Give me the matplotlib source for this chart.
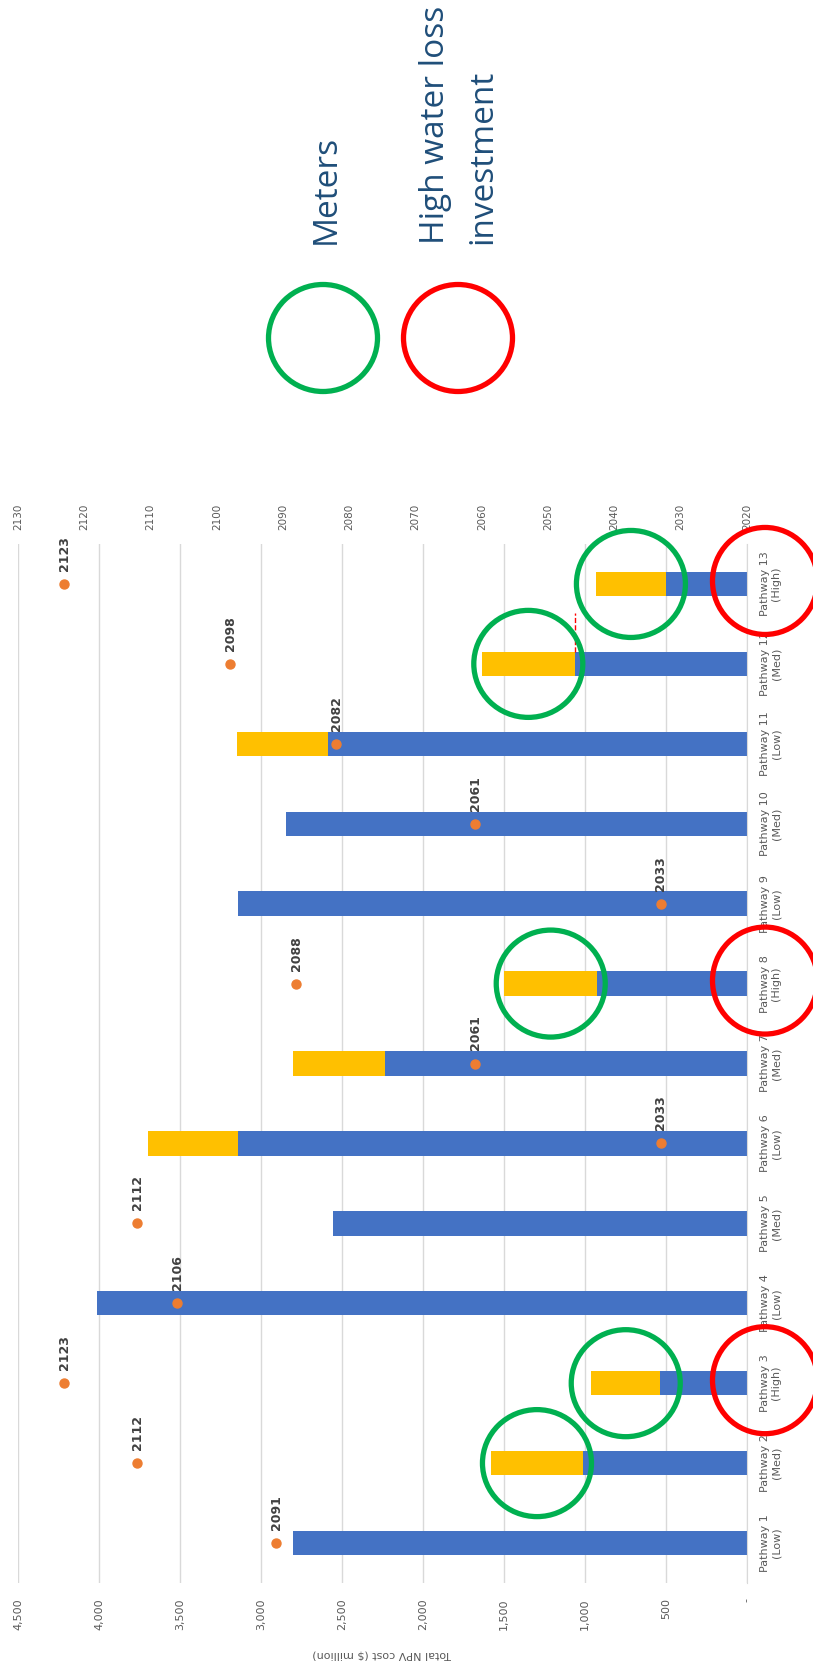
import numpy as np
import matplotlib
matplotlib.use('Agg')
import matplotlib.pyplot as plt
from matplotlib.patches import Ellipse

pathways = ['Pathway 1\n(Low)', 'Pathway 2\n(Med)', 'Pathway 3\n(High)', 'Pathway 4\n(Low)',
            'Pathway 5\n(Med)', 'Pathway 6\n(Low)', 'Pathway 7\n(Med)', 'Pathway 8\n(High)',
            'Pathway 9\n(Low)', 'Pathway 10\n(Med)', 'Pathway 11\n(Low)', 'Pathway 12\n(Med)',
            'Pathway 13\n(High)']
base_cost = [2805, 1013, 535, 4013, 2553, 3141, 2234, 926, 3141, 2844, 2585, 1063, 501]
meter_cost = [0, 567, 427, 0, 0, 558, 571, 571, 0, 0, 565, 574, 431]
end_year = [2091, 2112, 2123, 2106, 2112, 2033, 2061, 2088, 2033, 2061, 2082, 2098, 2123]
value_ticks = [0, 500, 1000, 1500, 2000, 2500, 3000, 3500, 4000, 4500]
value_labels = ['-', '500', '1,000', '1,500', '2,000', '2,500', '3,000', '3,500', '4,000', '4,500']
year_ticks = [2020, 2030, 2040, 2050, 2060, 2070, 2080, 2090, 2100, 2110, 2120, 2130]
meter_idx = [1, 2, 7, 11, 12]     # green rings
high_idx = [2, 7, 12]             # red rings

W, H = 813, 1668
fig = plt.figure(figsize=(W / 100, H / 100), dpi=100)
ax = fig.add_axes([18 / W, 1 - 1583 / H, 729 / W, 1039 / H])

pos = np.arange(len(pathways))
ax.barh(pos, base_cost, height=0.305, color='#4472C4', zorder=2)
ax.barh(pos, meter_cost, left=base_cost, height=0.305, color='#FFC000', zorder=2)
ax.set_xlim(4500, 0)
ax.set_ylim(-0.5, len(pathways) - 0.5)

ax.set_xticks(value_ticks)
ax.set_xticklabels(value_labels, rotation=90, fontsize=8, color='#595959')
ax.tick_params(axis='x', length=0, pad=11)
ax.yaxis.tick_right()
ax.set_yticks(pos)
ax.set_yticklabels(pathways, rotation=90, fontsize=8, color='#595959')
for t in ax.get_yticklabels():
    t.set_multialignment('center')
    t.set_va('center')
ax.tick_params(axis='y', length=0, pad=9)
ax.grid(axis='x', color='#D9D9D9', linewidth=1, zorder=0)
ax.set_axisbelow(True)
for s in ['top', 'bottom', 'left']:
    ax.spines[s].set_visible(False)
ax.spines['right'].set_color('#D9D9D9')

# stray dashed red line at pathway 12 blue end
ax.plot([base_cost[11], base_cost[11]], [11.15, 11.64], '--', color='#FF0000', lw=1, zorder=3)

ax2 = ax.twiny()
ax2.set_xlim(2130, 2020)
ax2.set_xticks(year_ticks)
ax2.set_xticklabels([str(y) for y in year_ticks], rotation=90, fontsize=7.5, color='#595959')
ax2.tick_params(axis='x', length=0, pad=10)
for s in ax2.spines.values():
    s.set_visible(False)
ax2.scatter(end_year, pos, s=42, color='#ED7D31', zorder=4)
for y, p in zip(end_year, pos):
    ax2.annotate(str(y), (y, p), xytext=(0, 13), textcoords='offset pixels', rotation=90,
                 ha='center', va='bottom', fontsize=9, fontweight='bold', color='#404040')

fig.text(382 / W, 1 - 1655 / H, 'Total NPV cost ($ million)', rotation=180,
         ha='center', va='center', fontsize=8, color='#595959')


def ring(cx, cy, color, w=109, h=107):
    # cx, cy in display pixels (origin bottom-left)
    e = Ellipse((cx / 100, cy / 100), w / 100, h / 100, fill=False, lw=3.8,
                edgecolor=color, transform=fig.dpi_scale_trans, zorder=10)
    fig.add_artist(e)


for i in meter_idx:
    cx, cy = ax.transData.transform((base_cost[i] + meter_cost[i] / 2, i))
    ring(cx, cy, '#00B050')
for i in high_idx:
    cx, cy = ax.transData.transform((0, i))
    ring(cx + 18, cy + 3, '#FF0000', w=105)

# legend rings and texts
ring(323, H - 338, '#00B050')
ring(458, H - 338, '#FF0000')
fig.text(326 / W, 1 - 244 / H, 'Meters', rotation=90, ha='center', va='bottom',
         fontsize=24, family='Open Sans', color='#1F4E79')
fig.text(436 / W, 1 - 244 / H, 'High water loss', rotation=90, ha='center', va='bottom',
         fontsize=24, family='Open Sans', color='#1F4E79')
fig.text(483 / W, 1 - 244 / H, 'investment', rotation=90, ha='center', va='bottom',
         fontsize=24, family='Open Sans', color='#1F4E79')

fig.savefig('out.png', dpi=100)
